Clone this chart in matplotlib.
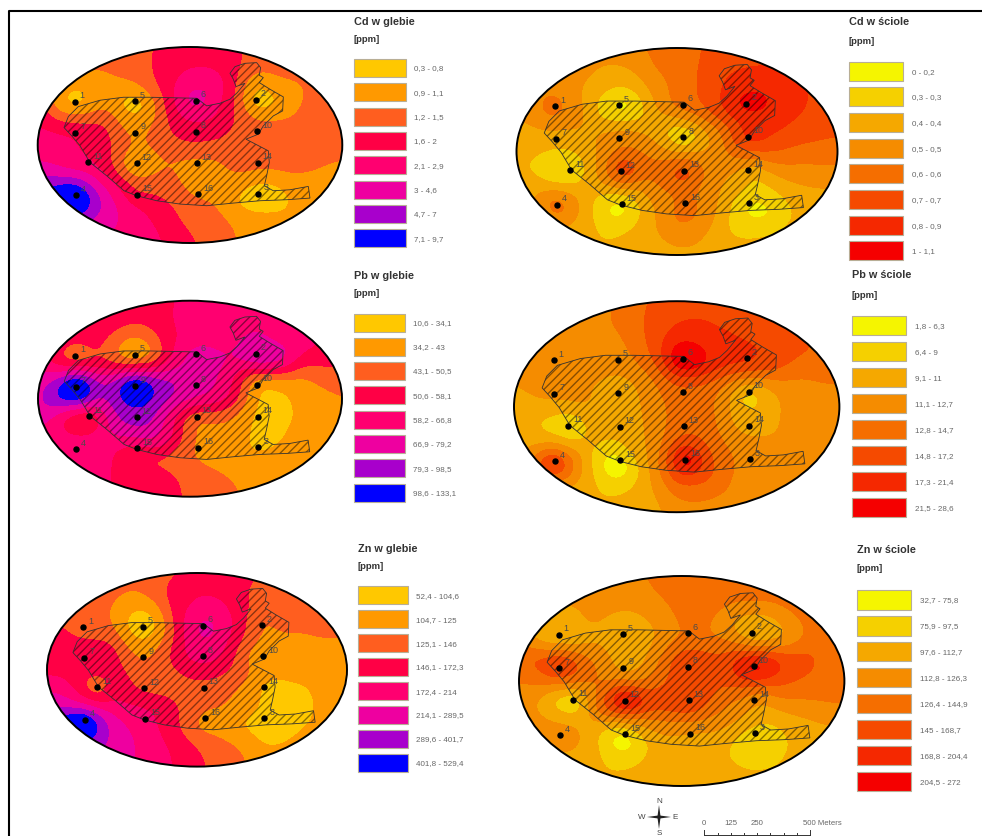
"""Six interpolated heavy-metal maps (soil and litter) with class legends."""

import matplotlib

matplotlib.use("Agg")

import matplotlib.pyplot as plt
import matplotlib.tri as mtri
import numpy as np
from matplotlib.patches import Ellipse, Polygon, Rectangle

plt.rcParams["font.family"] = ["Liberation Sans", "DejaVu Sans"]
plt.rcParams["hatch.linewidth"] = 1.0

FIG_W, FIG_H = 982, 837

# Map units: the site is the same in every panel, only scaled.
MAP_X0, MAP_X1 = 113, 1027
MAP_Y0, MAP_Y1 = 143, 732

STATION_NAMES = ["1", "5", "6", "2", "7", "9", "8", "10", "11", "12", "13", "14", "4", "15", "16", "3"]
STATION_X = [224, 405, 587, 767, 226, 406, 588, 772, 265, 410, 590, 773, 228, 412, 594, 775]
STATION_Y = [308, 306, 304, 302, 401, 400, 397, 396, 490, 493, 492, 491, 589, 587, 585, 584]

SITE_X = [205, 235, 300, 370, 450, 540, 590, 620, 660, 690, 712, 735, 708, 700, 690, 705, 735, 770, 782,
          778, 790, 778, 810, 850, 848, 820, 790, 775, 738, 805, 808, 800, 793, 820, 870, 925, 930, 860,
          780, 700, 620, 540, 470, 410, 372, 320, 270, 240, 215, 192]
SITE_Y = [352, 322, 303, 294, 294, 296, 297, 320, 312, 300, 280, 252, 262, 240, 222, 202, 192, 190, 205,
          228, 235, 250, 270, 293, 335, 350, 380, 405, 420, 455, 490, 530, 560, 575, 572, 562, 597, 602,
          605, 612, 620, 615, 605, 590, 575, 530, 490, 440, 410, 385]

# Class index (1-8) on a 15 x 11 sample grid and at the stations.
# Values go past the class range where a small blob peaks there.
CD_SOIL_GRID = [
    [3, 3, 3, 3, 3, 3.2, 3.9, 4, 4, 3.8, 3, 3, 3, 3, 3],
    [3, 3, 3, 2.6, 3, 3.2, 4.3, 4.4, 4.4, 3.9, 3, 3, 3, 3, 3],
    [2.5, 2, 1.3, 2, 2.2, 2.9, 4.2, 5.3, 5.3, 4, 1.2, 2, 2.3, 3, 3],
    [4, 1.2, 1, 2.5, 1, 1.2, 4, 6, 5, 3.6, 0.6, 1.3, 2.4, 3, 3],
    [4.5, 4, 4, 4, 2.2, 2.2, 3.5, 4.3, 4.3, 3.4, 3, 3, 3, 3, 3],
    [5, 5, 4.4, 4, 3, 2.6, 3.1, 3.5, 3.3, 3, 3, 3, 3, 3, 3],
    [5.5, 5, 4.5, 4, 2, 1.6, 2.4, 2, 2.1, 3, 3, 3, 3, 2.6, 2.3],
    [7, 7.3, 7, 5.4, 4, 3, 3, 2, 2, 2, 1.3, 1.3, 2, 2, 2],
    [9, 9, 9, 6.5, 4.8, 4.3, 3.6, 3, 2.6, 1.4, 0.8, 1, 1.7, 2, 2],
    [6.5, 6.5, 6.5, 6, 5.3, 4.7, 3.9, 3.2, 3, 2.5, 2.2, 2, 2, 2, 2],
    [5.2, 5.2, 5.2, 5.2, 5.2, 5.2, 4.2, 3.8, 3, 2.6, 2, 2, 2, 2, 2],
]
CD_SOIL_STATIONS = [0.6, 0.3, 7, 0.3, 4.5, 2, 4, 3, 4.5, 0.3, 2, 3, 11, 3, 2, 0.6]

CD_LITTER_GRID = [
    [4, 4, 4, 4, 4, 4.2, 4.7, 5, 5.4, 6, 6, 6, 6, 6, 6],
    [4, 4, 4, 3.7, 3.3, 3.4, 4.6, 5, 5.5, 6.3, 6.5, 6.6, 6.4, 6, 6],
    [4, 4, 3.9, 3.4, 2.6, 2.4, 3.8, 4.8, 5.6, 6.6, 7.2, 7.4, 7, 6.3, 6],
    [3.6, 4.4, 4.6, 3.6, 1.2, 0.9, 3.5, 5, 5.4, 6.6, 7.7, 7.5, 6.8, 6.3, 6],
    [3.3, 3.3, 3.2, 3.5, 3.9, 3.9, 3.2, 1.2, 2.6, 4.4, 6.3, 6.8, 6.2, 6, 5.8],
    [2.6, 2.6, 2.3, 3, 4, 4.7, 4, 3, 3.2, 4, 5.4, 5.7, 5.3, 5, 4.8],
    [2.6, 2.1, 0.6, 2.5, 4.6, 6.6, 4.8, 6.2, 4.6, 3.6, 2.9, 3.4, 4, 4.2, 4.3],
    [3, 3.6, 4, 3, 2, 2.5, 4, 4.3, 4, 3.4, 2.5, 2, 3, 3.2, 3.2],
    [3, 3.5, 5.2, 3, 1, 1.2, 3.4, 5, 4.6, 3, 1.2, 1, 2.4, 3, 3],
    [3, 3, 3, 3, 2.1, 2.8, 3.3, 4.4, 3.8, 2.6, 2.3, 2.6, 3, 3, 3],
    [3, 3, 3, 3, 3, 3, 3, 3, 3, 3, 3, 3, 3, 3, 3],
]
CD_LITTER_STATIONS = [6, 0, 5, 8.6, 3, 4, 0, 8, 0.5, 8, 7.5, 2, 6.8, 0.3, 5.5, 0.8]

PB_SOIL_GRID = [
    [4, 4, 4, 4, 4, 4, 4.2, 5, 5, 5, 5, 5, 5, 5, 5],
    [4, 4, 4, 4, 4, 3.8, 4.4, 5, 5, 5, 5.2, 5, 5, 4.6, 4.4],
    [5, 4.4, 4, 3.7, 2.1, 2.3, 4, 5, 5, 5, 5.8, 5, 5, 4.6, 4],
    [4.5, 3.2, 2, 3.5, 1.5, 1.5, 4.3, 5.9, 6, 5.6, 7, 6.8, 4.2, 4, 3.7],
    [6, 6.4, 8.5, 6, 7.7, 7.8, 6.8, 6.2, 5.8, 4.5, 1.7, 2, 2, 2.8, 3.2],
    [6, 8, 8.5, 6.5, 7.8, 7.9, 6.8, 6, 5.5, 4.5, 1.6, 1, 1.8, 2, 2.4],
    [6, 4.2, 2.5, 5, 7, 7.2, 5, 2.3, 2.6, 2.3, 1.4, 1, 1.6, 2, 2],
    [5, 5, 5, 5.2, 5.5, 6.2, 5.3, 2.8, 2, 2, 1.3, 1.1, 2, 2, 2],
    [5, 5, 5, 5, 3.6, 3, 3, 2.6, 2, 2, 1.8, 2, 2, 2, 2],
    [5, 5, 5, 4.7, 4, 4, 3.8, 3.2, 2.9, 2.4, 2, 2, 2, 2, 2],
    [5, 5, 5, 4.8, 4, 4, 3.8, 3.3, 3.1, 2.8, 2, 2, 2, 2, 2],
]
PB_SOIL_STATIONS = [1.5, 0.5, 6.4, 7, 12, 11, 6, 1, 2, 7, 2, 1, 5, 3, 2, 1]

PB_LITTER_GRID = [
    [4, 4, 4, 4, 4.3, 4.8, 5.7, 6, 6, 6, 6, 5.8, 5.5, 5, 5],
    [4, 4, 4, 4, 4.5, 4.9, 6, 6.5, 6.7, 6.3, 6, 6, 5.7, 5.3, 5],
    [4, 4, 4, 4, 4, 4.6, 5.9, 7.4, 7.1, 6.9, 6.5, 6.2, 6, 5.5, 5],
    [4, 4, 4, 4, 4, 4.2, 5, 8.6, 8, 7, 7, 6.4, 5.3, 5, 4.9],
    [3.3, 4.2, 4, 3.6, 3, 3, 4.2, 5.3, 5.2, 4.3, 3, 3.6, 4, 4.4, 4.5],
    [3, 3, 3.2, 3.9, 3, 3, 4, 4.8, 4.8, 4.2, 2, 3, 4, 4, 4],
    [3, 2.2, 1.6, 2.4, 3.3, 3, 3.8, 5, 5.4, 4, 3, 3.1, 4, 4, 4],
    [3, 3.6, 4, 3, 1.6, 3, 3.6, 6.5, 5.8, 4.7, 4, 4, 4, 4, 4],
    [4, 5.5, 7, 3.4, 0.6, 0.8, 3.8, 7, 6.5, 5, 4, 4, 4, 4, 4],
    [3, 3, 3, 3, 2.2, 2.6, 3.3, 5, 5, 4.5, 4, 4, 4, 4, 4],
    [3, 3, 3, 3, 3, 3, 3.2, 3.8, 4, 4, 4, 4, 4, 4, 4],
]
PB_LITTER_STATIONS = [4, 4, 11, 7, 4, 3, 5, 1, 0, 3, 5, 3, 10, 0, 12, 4]

ZN_SOIL_GRID = [
    [3, 3, 3, 3, 3, 3, 3.3, 4, 4, 4, 3.4, 3, 3, 3, 3],
    [3, 3, 3, 2.7, 2.4, 3, 4, 4.4, 4.3, 3.7, 3, 3, 3, 3, 3],
    [3, 3, 3, 2.4, 1.2, 1.3, 4, 5, 5, 4, 3, 3, 3, 3, 3],
    [4, 3.4, 3, 2.8, 0.9, 0.9, 3.6, 5.8, 5.6, 4, 2.4, 2.6, 2.5, 2.8, 2.8],
    [4, 4, 4, 4.2, 2.2, 2.4, 4, 5.4, 5, 3, 1.9, 2, 2, 2, 2],
    [4, 4, 4.2, 4.2, 3.2, 2.8, 3.4, 4.2, 3.9, 3, 2.4, 2, 2, 2, 2],
    [5.4, 5, 2.8, 4.4, 3.5, 3, 3, 3, 3, 2.4, 1.5, 1, 1.3, 2, 2],
    [6.5, 6.2, 5.7, 5, 4.8, 4.5, 3.6, 3, 2.6, 2, 1.7, 1, 1, 2, 2],
    [9, 9, 9, 6.3, 5.3, 4.7, 3.6, 2.2, 2, 1.4, 0.9, 1, 1.5, 2, 2],
    [6, 6.5, 7, 6.2, 5.6, 5, 4.3, 3.5, 3, 2.6, 1.5, 1.6, 2, 2, 2],
    [6, 6, 6, 6, 5.5, 5, 4.4, 3.9, 3, 2.8, 2, 2, 2, 2, 2],
]
ZN_SOIL_STATIONS = [3, 0.3, 6.5, 2, 4, 2, 5, 1, 1.5, 3, 3, 0.8, 11, 5, 1.3, 0.8]

ZN_LITTER_GRID = [
    [4, 4, 4, 4, 4, 4.2, 4.9, 5, 5, 5, 5, 5, 5, 5, 5],
    [4, 4, 4, 4, 4, 4, 4.5, 5, 5, 5, 5, 5, 5, 5, 5],
    [4, 3.5, 2.6, 3.9, 3.2, 3.1, 3.8, 4.8, 4.9, 3.5, 3, 3.2, 4.6, 5, 5],
    [3.8, 2.3, 1.9, 3.2, 2.8, 2.6, 3.4, 4.4, 4.6, 4.2, 2.1, 2.5, 3.9, 5, 5],
    [5.8, 6.2, 7, 4.8, 3.4, 2.5, 4.3, 6.6, 6, 6, 7.5, 7.5, 6.4, 5.3, 5],
    [4.4, 4.8, 5.4, 5, 4.2, 3.9, 4.9, 6, 5.7, 5.6, 6, 6, 5.4, 5, 5],
    [3.8, 3, 0.8, 3.8, 7.6, 8.6, 6.5, 6.9, 5.7, 4.4, 3.8, 4, 4.4, 4.6, 4.7],
    [3.7, 4, 4, 3.3, 2.5, 3.4, 4, 4.2, 4, 3.8, 3, 2.4, 3, 3.4, 3.6],
    [3.5, 3.8, 4, 3.4, 0.8, 0.9, 3, 3, 3, 2.4, 1.7, 1.9, 2.8, 3, 3],
    [3, 3, 3, 3, 2.2, 2.5, 3, 3, 3, 2.6, 2.2, 2.4, 3, 3, 3],
    [3, 3, 3, 3, 3, 3, 3, 3, 3, 3, 3, 3, 3, 3, 3],
]
ZN_LITTER_STATIONS = [1.5, 3, 4.6, 2, 8, 2.5, 7, 10, 0, 10, 7.5, 3, 4, 0, 3, 1.5]

CD_SOIL_LABELS = ["0,3 - 0,8", "0,9 - 1,1", "1,2 - 1,5", "1,6 - 2", "2,1 - 2,9", "3 - 4,6", "4,7 - 7", "7,1 - 9,7"]
CD_LITTER_LABELS = ["0 - 0,2", "0,3 - 0,3", "0,4 - 0,4", "0,5 - 0,5", "0,6 - 0,6", "0,7 - 0,7", "0,8 - 0,9", "1 - 1,1"]
PB_SOIL_LABELS = ["10,6 - 34,1", "34,2 - 43", "43,1 - 50,5", "50,6 - 58,1", "58,2 - 66,8", "66,9 - 79,2", "79,3 - 98,5", "98,6 - 133,1"]
PB_LITTER_LABELS = ["1,8 - 6,3", "6,4 - 9", "9,1 - 11", "11,1 - 12,7", "12,8 - 14,7", "14,8 - 17,2", "17,3 - 21,4", "21,5 - 28,6"]
ZN_SOIL_LABELS = ["52,4 - 104,6", "104,7 - 125", "125,1 - 146", "146,1 - 172,3", "172,4 - 214", "214,1 - 289,5", "289,6 - 401,7", "401,8 - 529,4"]
ZN_LITTER_LABELS = ["32,7 - 75,8", "75,9 - 97,5", "97,6 - 112,7", "112,8 - 126,3", "126,4 - 144,9", "145 - 168,7", "168,8 - 204,4", "204,5 - 272"]

SOIL_COLORS = ["#FFC800", "#FF9900", "#FF5E1F", "#FF0045", "#FF0070", "#EE00A0", "#A800CC", "#0000FF"]
LITTER_COLORS = ["#F5F500", "#F5D000", "#F5A800", "#F58C00", "#F56E00", "#F54A00", "#F52800", "#F50000"]

SCALE_VALUES = [0, 125, 250, 500]

LABEL_COLOR = "#666666"
TITLE_COLOR = "#333333"
BOX_EDGE = "#B8AE96"

# Layout in pixels: ellipse centre and radii, legend x, box width and height,
# label x, title y, unit y, box tops.
PANELS = [
    {
        "title": "Cd w glebie", "grid": CD_SOIL_GRID, "stations": CD_SOIL_STATIONS,
        "labels": CD_SOIL_LABELS, "colors": SOIL_COLORS, "ellipse": (190, 146, 152.3, 98),
        "legend": (354, 51.7, 18, 414, 21.7, 39),
        "tops": (60, 84.3, 108.7, 133, 157.3, 181.7, 206, 230.3),
    },
    {
        "title": "Cd w ściole", "grid": CD_LITTER_GRID, "stations": CD_LITTER_STATIONS,
        "labels": CD_LITTER_LABELS, "colors": LITTER_COLORS, "ellipse": (677, 152.5, 160.5, 103.5),
        "legend": (849, 54.3, 19, 911.7, 22, 41),
        "tops": (63.3, 88.3, 114, 139.7, 165.3, 191, 216.7, 242.3),
    },
    {
        "title": "Pb w glebie", "grid": PB_SOIL_GRID, "stations": PB_SOIL_STATIONS,
        "labels": PB_SOIL_LABELS, "colors": SOIL_COLORS, "ellipse": (190, 399.7, 152, 98),
        "legend": (354, 51, 18, 413, 275.7, 293.7),
        "tops": (315, 338.7, 363, 387.3, 411.7, 436, 460.3, 484.7),
    },
    {
        "title": "Pb w ściole", "grid": PB_LITTER_GRID, "stations": PB_LITTER_STATIONS,
        "labels": PB_LITTER_LABELS, "colors": LITTER_COLORS, "ellipse": (676.7, 407.7, 162.7, 105.5),
        "legend": (851.7, 54.3, 19, 915, 275.3, 295),
        "tops": (317.3, 343.3, 369, 395, 421, 447, 472.7, 498.7),
    },
    {
        "title": "Zn w glebie", "grid": ZN_SOIL_GRID, "stations": ZN_SOIL_STATIONS,
        "labels": ZN_SOIL_LABELS, "colors": SOIL_COLORS, "ellipse": (197, 670.8, 150, 96.8),
        "legend": (357.7, 50.3, 18, 415.7, 549, 566.7),
        "tops": (587.3, 611.3, 635.3, 659, 683.3, 707, 730.7, 754.7),
    },
    {
        "title": "Zn w ściole", "grid": ZN_LITTER_GRID, "stations": ZN_LITTER_STATIONS,
        "labels": ZN_LITTER_LABELS, "colors": LITTER_COLORS, "ellipse": (681.7, 682, 162.7, 105),
        "legend": (856.7, 54.3, 19.5, 920, 549.7, 568.7),
        "tops": (591, 617, 642.7, 668.7, 694.7, 720.7, 746.7, 772.7),
    },
]


def soften(field, sigma):
    """Gaussian-smooth a 2D field along both axes, keeping edge values."""

    radius = int(3 * sigma)
    offsets = np.arange(-radius, radius + 1)
    kernel = np.exp(-0.5 * (offsets / sigma) ** 2)
    kernel = kernel / kernel.sum()

    padded = np.pad(field, radius, mode="edge")
    padded = np.apply_along_axis(lambda row: np.convolve(row, kernel, mode="same"), 1, padded)
    padded = np.apply_along_axis(lambda col: np.convolve(col, kernel, mode="same"), 0, padded)

    return padded[radius:-radius, radius:-radius]


def draw_map(figure, panel):
    """Draw one elliptical class map in its own axes, in map units."""

    cx, cy, rx, ry = panel["ellipse"]
    pad = 3
    x_scale = 2 * rx / (MAP_X1 - MAP_X0)
    y_scale = 2 * ry / (MAP_Y1 - MAP_Y0)

    axis = figure.add_axes([
        (cx - rx - pad) / FIG_W,
        1 - (cy + ry + pad) / FIG_H,
        (2 * rx + 2 * pad) / FIG_W,
        (2 * ry + 2 * pad) / FIG_H,
    ])
    axis.set_xlim(MAP_X0 - pad / x_scale, MAP_X1 + pad / x_scale)
    axis.set_ylim(MAP_Y1 + pad / y_scale, MAP_Y0 - pad / y_scale)
    axis.axis("off")

    grid_x, grid_y = np.meshgrid(
        np.linspace(MAP_X0, MAP_X1, 15),
        np.linspace(MAP_Y0, MAP_Y1, 11),
    )
    points_x = np.concatenate([grid_x.ravel(), STATION_X])
    points_y = np.concatenate([grid_y.ravel(), STATION_Y])
    values = np.concatenate([np.array(panel["grid"], dtype=float).ravel(), panel["stations"]])

    triangles = mtri.Triangulation(points_x, points_y)
    surface = mtri.LinearTriInterpolator(triangles, values)
    fine_x, fine_y = np.meshgrid(
        np.linspace(MAP_X0, MAP_X1, 460),
        np.linspace(MAP_Y0, MAP_Y1, 300),
    )
    fine_z = soften(surface(fine_x, fine_y).filled(3), 13)

    outline = Ellipse(
        ((MAP_X0 + MAP_X1) / 2, (MAP_Y0 + MAP_Y1) / 2),
        MAP_X1 - MAP_X0,
        MAP_Y1 - MAP_Y0,
        fill=False,
        edgecolor="black",
        linewidth=1.4,
        zorder=5,
        clip_on=False,
    )
    axis.add_patch(outline)

    bands = axis.contourf(
        fine_x,
        fine_y,
        np.clip(fine_z, 0.6, 8.4),
        levels=np.arange(0.5, 9),
        colors=panel["colors"],
        zorder=1,
    )
    bands.set_clip_path(outline)

    site = np.column_stack([SITE_X, SITE_Y])
    axis.add_patch(
        Polygon(site, closed=True, facecolor="none", edgecolor=(0, 0, 0, 0.45), linewidth=0, hatch="////", zorder=2)
    )
    axis.add_patch(
        Polygon(site, closed=True, fill=False, edgecolor="#333333", linewidth=0.6, zorder=3)
    )

    axis.scatter(STATION_X, STATION_Y, s=13, color="black", zorder=4)
    for name, x_value, y_value in zip(STATION_NAMES, STATION_X, STATION_Y):
        axis.annotate(
            name,
            (x_value, y_value),
            xytext=(3.6, 5),
            textcoords="offset points",
            fontsize=6.5,
            color="#4A4A4A",
            ha="left",
            va="center",
            zorder=4,
        )


def draw_legend(axis, panel):
    """Draw the title, unit and class boxes of one map."""

    left, width, height, label_x, title_y, unit_y = panel["legend"]

    axis.text(left, title_y, panel["title"], fontsize=7.8, fontweight="bold", color=TITLE_COLOR, va="center")
    axis.text(left, unit_y, "[ppm]", fontsize=6.8, fontweight="bold", color=TITLE_COLOR, va="center")

    for top, color, label in zip(panel["tops"], panel["colors"], panel["labels"]):
        axis.add_patch(
            Rectangle((left, top), width, height, facecolor=color, edgecolor=BOX_EDGE, linewidth=0.8)
        )
        axis.text(label_x, top + height / 2, label, fontsize=5.8, color=LABEL_COLOR, va="center")


def draw_compass_and_scale(axis):
    """Draw the north arrow and the scale bar at the bottom."""

    cx, cy = 659, 818
    long_arm, short_arm = 12, 1.6
    for dx, dy in [(1, 0), (-1, 0), (0, 1), (0, -1)]:
        tip = (cx + dx * long_arm, cy + dy * long_arm)
        side_a = (cx + dy * short_arm, cy + dx * short_arm)
        side_b = (cx - dy * short_arm, cy - dx * short_arm)
        axis.add_patch(Polygon([tip, side_a, side_b], facecolor="#222222", edgecolor="none"))

    for letter, x_value, y_value in [("N", cx, 802), ("S", cx, 834), ("W", 642, cy), ("E", 675, cy)]:
        axis.text(x_value, y_value, letter, fontsize=5.8, color="#444444", ha="center", va="center")

    bar_left, bar_right, bar_y = 704.3, 810, 835.7
    unit = (bar_right - bar_left) / SCALE_VALUES[-1]
    axis.plot([bar_left, bar_right], [bar_y, bar_y], color="#333333", linewidth=0.7)
    for step in range(9):
        tick_x = bar_left + step * (bar_right - bar_left) / 8
        tick_top = bar_y - (5 if step in (0, 8) else 2)
        axis.plot([tick_x, tick_x], [tick_top, bar_y], color="#333333", linewidth=0.7)

    for value in SCALE_VALUES:
        text = f"{value} Meters" if value == SCALE_VALUES[-1] else str(value)
        x_value = bar_left + value * unit
        if value == SCALE_VALUES[-1]:
            axis.text(x_value - 7, 824, text, fontsize=5.6, color=LABEL_COLOR, ha="left", va="center")
        else:
            axis.text(x_value, 824, text, fontsize=5.6, color=LABEL_COLOR, ha="center", va="center")


figure = plt.figure(figsize=(FIG_W / 100, FIG_H / 100), dpi=100, facecolor="white")

overlay = figure.add_axes([0, 0, 1, 1])
overlay.set_xlim(0, FIG_W)
overlay.set_ylim(FIG_H, 0)
overlay.axis("off")

overlay.plot([9.5, 9.5, FIG_W], [FIG_H, 12, 12], color="black", linewidth=1.5)

for panel in PANELS:
    draw_map(figure, panel)
    draw_legend(overlay, panel)

draw_compass_and_scale(overlay)

figure.savefig("out.png", dpi=100, facecolor="white")
plt.close(figure)
